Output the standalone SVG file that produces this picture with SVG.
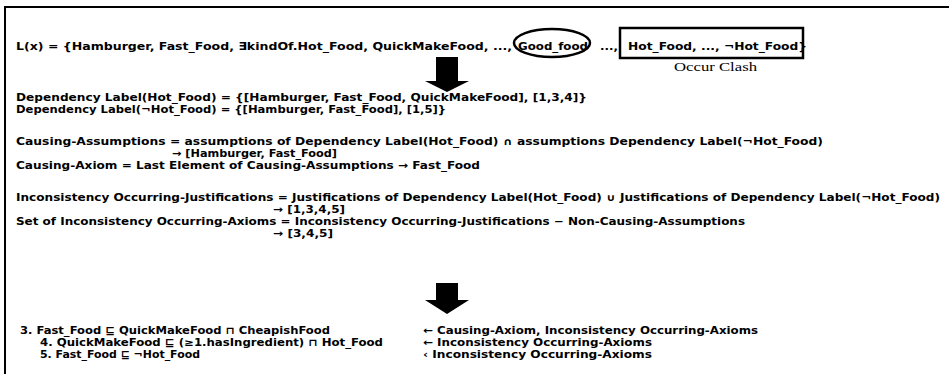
<svg xmlns="http://www.w3.org/2000/svg" width="949" height="374" viewBox="0 0 949 374">
<style>
.t{font-family:"DejaVu Sans","Liberation Sans",sans-serif;font-weight:bold;font-size:10px;fill:#000}
.h{font-size:11px}
.s{font-family:"Liberation Serif",serif;font-size:13px;fill:#000}
.frame{fill:none;stroke:#000;stroke-width:2}
.mark{fill:none;stroke:#000;stroke-width:2.5}
.arr{fill:#000}
</style>
<rect width="949" height="374" fill="#fff"/>
<path class="frame" d="M5,374 V7 H949"/>
<g id="lx">
<text class="t h" x="16" y="50" textLength="496" lengthAdjust="spacingAndGlyphs">L(x) = {Hamburger, Fast_Food, ∃kindOf.Hot_Food, QuickMakeFood, ...,</text>
<ellipse class="mark" cx="552" cy="43" rx="38" ry="14"/>
<text class="t h" x="518" y="50" textLength="70" lengthAdjust="spacingAndGlyphs">Good_food</text>
<text class="t h" x="600" y="50" textLength="18" lengthAdjust="spacingAndGlyphs">...,</text>
<rect class="mark" x="620" y="28" width="183" height="30"/>
<text class="t h" x="628" y="50" textLength="179" lengthAdjust="spacingAndGlyphs">Hot_Food, ..., ¬Hot_Food}</text>
<text class="s" x="674" y="71" textLength="83" lengthAdjust="spacingAndGlyphs">Occur Clash</text>
</g>
<g id="dependency">
<text class="t" x="16" y="101" textLength="571" lengthAdjust="spacingAndGlyphs">Dependency Label(Hot_Food) = {[Hamburger, Fast_Food, QuickMakeFood], [1,3,4]}</text>
<text class="t" x="16" y="113" textLength="430" lengthAdjust="spacingAndGlyphs">Dependency Label(¬Hot_Food) = {[Hamburger, Fast_Food], [1,5]}</text>
</g>
<g id="causing">
<text class="t" x="16" y="145" textLength="807" lengthAdjust="spacingAndGlyphs">Causing-Assumptions = assumptions of Dependency Label(Hot_Food) ∩ assumptions Dependency Label(¬Hot_Food)</text>
<text class="t" x="172" y="157" textLength="165" lengthAdjust="spacingAndGlyphs">→ [Hamburger, Fast_Food]</text>
<text class="t" x="16" y="169" textLength="464" lengthAdjust="spacingAndGlyphs">Causing-Axiom = Last Element of Causing-Assumptions → Fast_Food</text>
</g>
<g id="inconsistency">
<text class="t" x="16" y="201" textLength="924" lengthAdjust="spacingAndGlyphs">Inconsistency Occurring-Justifications = Justifications of Dependency Label(Hot_Food) ∪ Justifications of Dependency Label(¬Hot_Food)</text>
<text class="t" x="273" y="213" textLength="72" lengthAdjust="spacingAndGlyphs">→ [1,3,4,5]</text>
<text class="t" x="16" y="225" textLength="729" lengthAdjust="spacingAndGlyphs">Set of Inconsistency Occurring-Axioms = Inconsistency Occurring-Justifications − Non-Causing-Assumptions</text>
<text class="t" x="273" y="237" textLength="60" lengthAdjust="spacingAndGlyphs">→ [3,4,5]</text>
</g>
<g id="axioms">
<text class="t" x="20" y="334" textLength="310" lengthAdjust="spacingAndGlyphs">3. Fast_Food ⊑ QuickMakeFood ⊓ CheapishFood</text>
<text class="t" x="40" y="346" textLength="343" lengthAdjust="spacingAndGlyphs">4. QuickMakeFood ⊑ (≥1.hasIngredient) ⊓ Hot_Food</text>
<text class="t" x="40" y="358" textLength="160" lengthAdjust="spacingAndGlyphs">5. Fast_Food ⊑ ¬Hot_Food</text>
<text class="t" x="423" y="334" textLength="335" lengthAdjust="spacingAndGlyphs">← Causing-Axiom, Inconsistency Occurring-Axioms</text>
<text class="t" x="423" y="346" textLength="229" lengthAdjust="spacingAndGlyphs">← Inconsistency Occurring-Axioms</text>
<text class="t" x="423" y="358" textLength="229" lengthAdjust="spacingAndGlyphs">‹ Inconsistency Occurring-Axioms</text>
</g>
<g id="connectors">
<polygon class="arr" points="436,57 458,57 458,81 469,81 447,92 425,81 436,81"/>
<polygon class="arr" points="436,283 458,283 458,300 469,300 447,314 425,300 436,300"/>
</g>
</svg>
